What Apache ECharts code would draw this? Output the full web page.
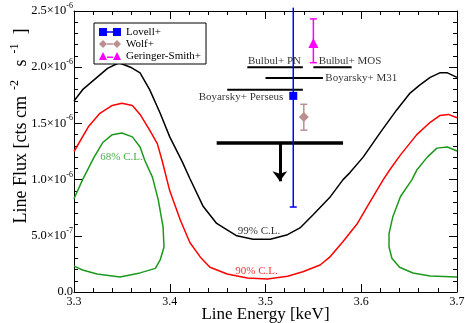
<!DOCTYPE html>
<html>
<head>
<meta charset="utf-8">
<script src="https://cdn.jsdelivr.net/npm/echarts@6/dist/echarts.min.js"></script>
<style>
html, body { margin: 0; padding: 0; background: #fff; }
#chart { width: 465px; height: 323px; }
</style>
</head>
<body>
<div id="chart"></div>
<script>
// flux values are in units of 1e-6 cts cm^-2 s^-1, energies in keV
const cl99 = [[3.300,1.70],[3.309,1.80],[3.324,1.91],[3.335,1.99],[3.347,2.04],[3.359,2.00],[3.369,1.95],
  [3.379,1.80],[3.390,1.59],[3.400,1.38],[3.413,1.16],[3.421,1.01],[3.435,0.76],[3.449,0.61],[3.470,0.50],
  [3.487,0.47],[3.505,0.47],[3.523,0.51],[3.536,0.57],[3.550,0.69],[3.567,0.84],[3.581,1.00],[3.588,1.06],
  [3.602,1.20],[3.620,1.42],[3.637,1.62],[3.651,1.77],[3.661,1.84],[3.672,1.91],[3.682,1.95],[3.690,1.95],[3.700,1.91]];

const cl90 = [[3.300,1.25],[3.315,1.47],[3.327,1.59],[3.340,1.66],[3.350,1.68],[3.361,1.66],[3.369,1.58],
  [3.379,1.44],[3.387,1.32],[3.392,1.17],[3.400,0.90],[3.411,0.64],[3.421,0.44],[3.432,0.31],[3.442,0.22],
  [3.460,0.16],[3.481,0.125],[3.502,0.116],[3.523,0.14],[3.539,0.18],[3.557,0.24],[3.567,0.31],[3.581,0.45],
  [3.596,0.61],[3.609,0.80],[3.623,1.00],[3.630,1.09],[3.641,1.22],[3.658,1.40],[3.672,1.51],[3.682,1.57],
  [3.691,1.58],[3.700,1.55]];

const cl68Left = [[3.300,0.83],[3.309,1.00],[3.321,1.20],[3.330,1.33],[3.340,1.40],[3.350,1.415],[3.361,1.38],
  [3.369,1.29],[3.374,1.17],[3.382,1.02],[3.388,0.82],[3.393,0.58],[3.394,0.40],[3.390,0.285],[3.385,0.21],
  [3.369,0.17],[3.348,0.133],[3.324,0.16],[3.309,0.196],[3.300,0.23]];

const cl68Right = [[3.700,1.255],[3.690,1.29],[3.679,1.28],[3.669,1.20],[3.658,1.085],[3.653,1.00],[3.641,0.85],
  [3.633,0.67],[3.629,0.52],[3.629,0.40],[3.632,0.30],[3.640,0.22],[3.654,0.169],[3.672,0.142],[3.700,0.133]];

// detections: [energy, flux, lower, upper]
const lovell = [3.529, 1.745, 0.756, 2.53];
const wolf = [3.540, 1.557, 1.44, 1.67];
const geringer = [3.550, 2.215, 2.04, 2.43];

// horizontal bands: [eMin, eMax, flux]
const bulbulPN = [3.481, 3.539, 2.00];
const bulbulMOS = [3.550, 3.590, 2.00];
const boyarskyM31 = [3.500, 3.560, 1.905];
const boyarskyPerseus = [3.460, 3.539, 1.80];
const upperLimit = [3.449, 3.581, 1.325];
const upperArrow = [3.515, 1.325, 0.985];

// text annotations: [text, energy, flux]
const notes = [
  ['Bulbul+ PN', 3.5094, 2.055],
  ['Bulbul+ MOS', 3.5883, 2.055],
  ['Boyarsky+ M31', 3.600, 1.904],
  ['Boyarsky+ Perseus', 3.4744, 1.735],
  ['68% C.L.', 3.3496, 1.201],
  ['99% C.L.', 3.4932, 0.543],
  ['90% C.L.', 3.4906, 0.190]
];
const noteColors = ['#000', '#000', '#000', '#000', '#1c991c', '#000', '#ff0000'];

const xTickLabels = ['3.3', '3.4', '3.5', '3.6', '3.7'];
const yTickLabels = [['0.0', ''], ['5.0\u00d710', '-7'], ['1.0\u00d710', '-6'], ['1.5\u00d710', '-6'], ['2.0\u00d710', '-6'], ['2.5\u00d710', '-6']];

const FONT = '"Liberation Serif", "DejaVu Serif", serif';
const GREEN = '#1c991c';

function segment(band, width) {
  return {
    type: 'line', data: [[band[0], band[2]], [band[1], band[2]]],
    symbol: 'none', silent: true, z: 3,
    lineStyle: { color: '#000', width: width }
  };
}

function errorBar(pt, color, topCap) {
  return {
    type: 'custom', data: [[pt[0], pt[2], pt[3]]], silent: true, z: 4,
    encode: { x: 0, y: [1, 2] },
    renderItem(params, api) {
      const lo = api.coord([api.value(0), api.value(1)]);
      const hi = api.coord([api.value(0), api.value(2)]);
      const kids = [
        { type: 'line', shape: { x1: lo[0], y1: lo[1], x2: hi[0], y2: hi[1] }, style: { stroke: color, lineWidth: 1.5 } },
        { type: 'line', shape: { x1: lo[0] - 3.5, y1: lo[1], x2: lo[0] + 3.5, y2: lo[1] }, style: { stroke: color, lineWidth: 1.5 } }
      ];
      if (topCap) {
        kids.push({ type: 'line', shape: { x1: hi[0] - 3.5, y1: hi[1], x2: hi[0] + 3.5, y2: hi[1] }, style: { stroke: color, lineWidth: 1.5 } });
      }
      return { type: 'group', children: kids };
    }
  };
}

function curve(data, color) {
  return { type: 'line', data: data, symbol: 'none', silent: true, z: 2, lineStyle: { color: color, width: 1.5 } };
}

const axisCommon = {
  type: 'value',
  axisLine: { onZero: false, lineStyle: { color: '#000', width: 1 } },
  axisTick: { inside: true, length: 8, lineStyle: { color: '#000' } },
  minorTick: { show: true, splitNumber: 5, length: 4, lineStyle: { color: '#000' } },
  splitLine: { show: false }
};

const option = {
  animation: false,
  backgroundColor: '#fff',
  grid: { left: 74, right: 8, top: 11, bottom: 31, containLabel: false, outerBoundsMode: 'none' },
  legend: {
    orient: 'vertical', left: 94, top: 23,
    padding: [3, 5, 2, 5], itemGap: 0, itemWidth: 22, itemHeight: 8,
    borderColor: '#000', borderWidth: 1, borderRadius: 0, backgroundColor: '#fff',
    textStyle: { fontFamily: FONT, fontSize: 11, color: '#000', lineHeight: 12 },
    selectedMode: false,
    data: [
      { name: 'Lovell+', icon: 'path://M0,0H8V8H0ZM8,3.25H14V4.75H8ZM14,0H22V8H14Z' },
      { name: 'Wolf+', icon: 'path://M4,0L8,4L4,8L0,4ZM8,3.25H14V4.75H8ZM18,0L22,4L18,8L14,4Z' },
      { name: 'Geringer-Smith+', icon: 'path://M4,0L8,8H0ZM8,4.5H14V6H8ZM18,0L22,8H14Z' }
    ]
  },
  xAxis: [
    Object.assign({}, axisCommon, {
      min: 3.3, max: 3.7, interval: 0.1, position: 'bottom',
      axisLabel: { fontFamily: FONT, fontSize: 12, color: '#000', margin: 4, formatter: (v, i) => xTickLabels[i] },
      name: 'Line Energy [keV]', nameLocation: 'middle', nameGap: 14, nameMoveOverlap: false,
      nameTextStyle: { fontFamily: FONT, fontSize: 17, color: '#000' }
    }),
    Object.assign({}, axisCommon, {
      min: 3.3, max: 3.7, interval: 0.1, position: 'top', axisLabel: { show: false }
    })
  ],
  yAxis: [
    Object.assign({}, axisCommon, {
      min: 0, max: 2.5, interval: 0.5, position: 'left',
      axisLabel: {
        margin: 1, color: '#000',
        formatter: (v, i) => {
          const [m, e] = yTickLabels[i];
          return e ? '{m|' + m + '}{e|' + e + '}' : '{m|' + m + '}';
        },
        rich: {
          m: { fontFamily: FONT, fontSize: 12.5, lineHeight: 18, color: '#000' },
          e: { fontFamily: FONT, fontSize: 8, lineHeight: 8, verticalAlign: 'top', color: '#000' }
        }
      },
      name: '{a|Line Flux [cts cm}{s|  -2}{a|   s}{s|  -1}{a|  ]}',
      nameLocation: 'middle', nameGap: 41, nameMoveOverlap: false,
      nameTextStyle: {
        padding: [0, 0, 0, 51],
        rich: {
          a: { fontFamily: FONT, fontSize: 18, lineHeight: 24, color: '#000' },
          s: { fontFamily: FONT, fontSize: 12, lineHeight: 12, verticalAlign: 'top', color: '#000' }
        }
      }
    }),
    Object.assign({}, axisCommon, {
      min: 0, max: 2.5, interval: 0.5, position: 'right', axisLabel: { show: false }
    })
  ],
  series: [
    curve(cl99, '#000'),
    curve(cl90, '#ff0000'),
    curve(cl68Left, GREEN),
    curve(cl68Right, GREEN),
    segment(bulbulPN, 2),
    segment(bulbulMOS, 2),
    segment(boyarskyM31, 2),
    segment(boyarskyPerseus, 2),
    Object.assign(segment(upperLimit, 3.5), {
      markLine: {
        silent: true, symbol: ['none', 'arrow'], symbolSize: [11, 10],
        lineStyle: { color: '#000', width: 3, type: 'solid' },
        label: { show: false },
        data: [[{ coord: [upperArrow[0], upperArrow[1]] }, { coord: [upperArrow[0], upperArrow[2]] }]]
      }
    }),
    errorBar(lovell, '#0000ff', false),
    errorBar(wolf, '#bc8f8f', true),
    errorBar(geringer, '#ff00ff', true),
    {
      name: 'Lovell+', type: 'line', data: [[lovell[0], lovell[1]]], z: 5,
      symbol: 'rect', symbolSize: 8, itemStyle: { color: '#0000ff' }, lineStyle: { color: '#0000ff' }
    },
    {
      name: 'Wolf+', type: 'line', data: [[wolf[0], wolf[1]]], z: 5,
      symbol: 'diamond', symbolSize: 10, itemStyle: { color: '#bc8f8f' }, lineStyle: { color: '#bc8f8f' }
    },
    {
      name: 'Geringer-Smith+', type: 'line', data: [[geringer[0], geringer[1]]], z: 5,
      symbol: 'triangle', symbolSize: 10, itemStyle: { color: '#ff00ff' }, lineStyle: { color: '#ff00ff' }
    },
    {
      type: 'scatter', silent: true, z: 6, symbolSize: 1,
      itemStyle: { color: 'rgba(0,0,0,0)' },
      label: { show: true, position: 'inside', formatter: '{b}', fontFamily: FONT, fontSize: 11 },
      data: notes.map((n, i) => ({ name: n[0], value: [n[1], n[2]], label: { color: noteColors[i] } }))
    }
  ]
};

const chart = echarts.init(document.getElementById('chart'));
chart.setOption(option);
</script>
</body>
</html>
